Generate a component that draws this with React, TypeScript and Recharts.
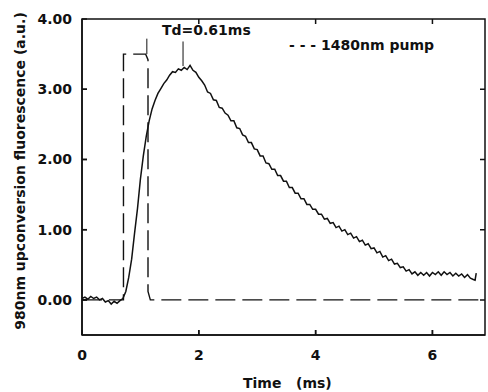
import React from 'react';
import { LineChart, Line, XAxis, YAxis, ReferenceLine } from 'recharts';

// Fluorescence trace (time in ms, intensity a.u.)
const fluoTime = [
  0.0, 0.05, 0.1, 0.15, 0.2, 0.25, 0.3, 0.35, 0.4, 0.45, 0.5, 0.55, 0.6, 0.65, 0.7,
  0.75, 0.8, 0.85, 0.9, 0.95, 1.0, 1.05, 1.1, 1.15, 1.2, 1.25, 1.3, 1.35, 1.4, 1.45, 1.5, 1.55,
  1.6, 1.65, 1.7, 1.75, 1.8, 1.85, 1.9, 1.95, 2.0, 2.05, 2.1, 2.15, 2.2, 2.25, 2.3, 2.35, 2.4, 2.45,
  2.5, 2.55, 2.6, 2.65, 2.7, 2.75, 2.8, 2.85, 2.9, 2.95, 3.0, 3.05, 3.1, 3.15, 3.2, 3.25, 3.3, 3.35,
  3.4, 3.45, 3.5, 3.55, 3.6, 3.65, 3.7, 3.75, 3.8, 3.85, 3.9, 3.95, 4.0, 4.05, 4.1, 4.15, 4.2, 4.25,
  4.3, 4.35, 4.4, 4.45, 4.5, 4.55, 4.6, 4.65, 4.7, 4.75, 4.8, 4.85, 4.9, 4.95, 5.0, 5.05, 5.1, 5.15,
  5.2, 5.25, 5.3, 5.35, 5.4, 5.45, 5.5, 5.55, 5.6, 5.65, 5.7, 5.75, 5.8, 5.85, 5.9, 5.95, 6.0, 6.05,
  6.1, 6.15, 6.2, 6.25, 6.3, 6.35, 6.4, 6.45, 6.5, 6.55, 6.6, 6.65, 6.7, 6.73, 6.75,
];
const fluoValue = [
  0.02, 0.04, 0.01, 0.05, 0.02, 0.04, 0.0, 0.02, -0.03, -0.01, -0.06, -0.02, -0.05, -0.01, 0.02,
  0.12, 0.32, 0.58, 0.95, 1.3, 1.72, 2.05, 2.33, 2.55, 2.72, 2.84, 2.94, 3.01, 3.08, 3.13, 3.2, 3.25,
  3.24, 3.29, 3.27, 3.31, 3.28, 3.34, 3.27, 3.24, 3.17, 3.12, 3.06, 2.96, 2.94, 2.85, 2.84, 2.74, 2.73, 2.66,
  2.63, 2.55, 2.55, 2.45, 2.44, 2.35, 2.33, 2.24, 2.24, 2.15, 2.14, 2.05, 2.05, 1.95, 1.94, 1.86, 1.86, 1.77,
  1.77, 1.69, 1.69, 1.6, 1.6, 1.52, 1.52, 1.44, 1.44, 1.36, 1.36, 1.29, 1.29, 1.22, 1.22, 1.15, 1.16, 1.09,
  1.1, 1.03, 1.05, 0.98, 1.0, 0.93, 0.95, 0.88, 0.9, 0.83, 0.85, 0.78, 0.8, 0.73, 0.74, 0.67, 0.69, 0.61,
  0.63, 0.56, 0.58, 0.51, 0.52, 0.46, 0.47, 0.41, 0.43, 0.37, 0.4, 0.35, 0.39, 0.35, 0.39, 0.34, 0.39, 0.36,
  0.4, 0.35, 0.4, 0.36, 0.39, 0.34, 0.38, 0.34, 0.37, 0.32, 0.36, 0.31, 0.29, 0.28, 0.38,
];

// 1480nm pump pulse (dashed)
const pumpTime = [0, 0.71, 0.71, 1.09, 1.13, 1.13, 1.17, 6.9];
const pumpValue = [0, 0, 3.5, 3.5, 3.42, 0.12, 0, 0];

// Marker lines (pump off edge and fluorescence peak), Td = 0.61 ms
const pumpOffMarker = { x: 1.11, y0: 3.5, y1: 3.72 };
const peakMarker = { x: 1.73, y0: 3.33, y1: 3.68 };

const xTicks = [0, 2, 4, 6];
const yTicks = [0, 1, 2, 3, 4];
const xDomain = [0, 6.9];
const yDomain = [-0.5, 4];

const fluoData = fluoTime.map((t, i) => ({ x: t, y: fluoValue[i] }));
const pumpData = pumpTime.map((t, i) => ({ x: t, y: pumpValue[i] }));

// inward tick length expressed in axis units (about 5 px)
const X_TICK_LEN = 0.071;
const Y_TICK_LEN = 0.086;

const [x0, x1] = xDomain;
const [y0, y1] = yDomain;

// Plot frame with inward ticks on all four sides, traced as one path in data units
const frameData: { x: number; y: number }[] = [{ x: x0, y: y0 }];
xTicks.forEach((t) => frameData.push({ x: t, y: y0 }, { x: t, y: y0 + X_TICK_LEN }, { x: t, y: y0 }));
frameData.push({ x: x1, y: y0 });
yTicks.forEach((t) => frameData.push({ x: x1, y: t }, { x: x1 - Y_TICK_LEN, y: t }, { x: x1, y: t }));
frameData.push({ x: x1, y: y1 });
[...xTicks].reverse().forEach((t) => frameData.push({ x: t, y: y1 }, { x: t, y: y1 - X_TICK_LEN }, { x: t, y: y1 }));
frameData.push({ x: x0, y: y1 });
[...yTicks].reverse().forEach((t) => frameData.push({ x: x0, y: t }, { x: x0 + Y_TICK_LEN, y: t }, { x: x0, y: t }));
frameData.push({ x: x0, y: y0 });

const FONT = 'DejaVu Sans, Arial, sans-serif';
const INK = '#111';
const W = 488;
const H = 392;
const MARGIN = { top: 19, right: 3, bottom: 10, left: 0 };

function FrameOverlay() {
  const ls = { stroke: INK, strokeWidth: 1.5 };
  return (
    <LineChart width={W} height={H} data={frameData} margin={MARGIN}>
      <XAxis
        dataKey="x"
        type="number"
        domain={xDomain}
        ticks={xTicks}
        height={47}
        axisLine={ls}
        tickLine={ls}
        tickSize={-5}
        tickFormatter={() => ''}
      />
      <YAxis
        type="number"
        domain={yDomain}
        ticks={yTicks}
        width={82}
        axisLine={ls}
        tickLine={ls}
        tickSize={-5}
        tickFormatter={() => ''}
      />
      <Line
        dataKey="y"
        type="linear"
        stroke={INK}
        strokeWidth={1.5}
        dot={false}
        activeDot={false}
        isAnimationActive={false}
      />
    </LineChart>
  );
}

export default function App() {
  const tickStyle = { fontFamily: FONT, fontWeight: 700, fontSize: 14, fill: INK };
  return (
    <div style={{ position: 'absolute', left: 0, top: 0, width: W, height: H, background: '#fff' }}>
      <div style={{ position: 'absolute', left: 0, top: 0 }}>
        <LineChart width={W} height={H} margin={MARGIN}>
          <XAxis
            xAxisId="b"
            dataKey="x"
            type="number"
            domain={xDomain}
            ticks={xTicks}
            height={47}
            axisLine={false}
            tickLine={false}
            tickSize={-5}
            tickMargin={20}
            tick={tickStyle}
            tickFormatter={(v: number) => String(v)}
          />
          <YAxis
            yAxisId="l"
            type="number"
            domain={yDomain}
            ticks={yTicks}
            width={82}
            axisLine={false}
            tickLine={false}
            tickSize={-5}
            tickMargin={15}
            tick={tickStyle}
            tickFormatter={(v: number) => v.toFixed(2)}
          />
          <Line
            xAxisId="b"
            yAxisId="l"
            data={pumpData}
            dataKey="y"
            type="linear"
            stroke={INK}
            strokeWidth={1.4}
            strokeDasharray="20 7"
            dot={false}
            activeDot={false}
            isAnimationActive={false}
          />
          <Line
            xAxisId="b"
            yAxisId="l"
            data={fluoData}
            dataKey="y"
            type="linear"
            stroke={INK}
            strokeWidth={1.5}
            dot={false}
            activeDot={false}
            isAnimationActive={false}
          />
          <ReferenceLine
            xAxisId="b"
            yAxisId="l"
            segment={[{ x: pumpOffMarker.x, y: pumpOffMarker.y0 }, { x: pumpOffMarker.x, y: pumpOffMarker.y1 }]}
            stroke={INK}
            strokeWidth={1}
          />
          <ReferenceLine
            xAxisId="b"
            yAxisId="l"
            segment={[{ x: peakMarker.x, y: peakMarker.y0 }, { x: peakMarker.x, y: peakMarker.y1 }]}
            stroke={INK}
            strokeWidth={1}
          />
          <text x={162} y={35} fontFamily={FONT} fontWeight={700} fontSize={14} fill={INK}>
            Td=0.61ms
          </text>
          <text x={289} y={50} fontFamily={FONT} fontWeight={700} fontSize={14} fill={INK} style={{ whiteSpace: 'pre' }}>
            {'- - - 1480nm pump'}
          </text>
          <text
            x={20}
            y={171}
            transform="rotate(-90, 20, 171)"
            textAnchor="middle"
            dominantBaseline="central"
            fontFamily={FONT}
            fontWeight={700}
            fontSize={14}
            fill={INK}
          >
            980nm upconversion fluorescence (a.u.)
          </text>
          <text x={243} y={388} fontFamily={FONT} fontWeight={700} fontSize={14} fill={INK} style={{ whiteSpace: 'pre' }}>
            {'Time   (ms)'}
          </text>
        </LineChart>
      </div>
      <div style={{ position: 'absolute', left: 0, top: 0, pointerEvents: 'none' }}>
        <FrameOverlay />
      </div>
    </div>
  );
}
